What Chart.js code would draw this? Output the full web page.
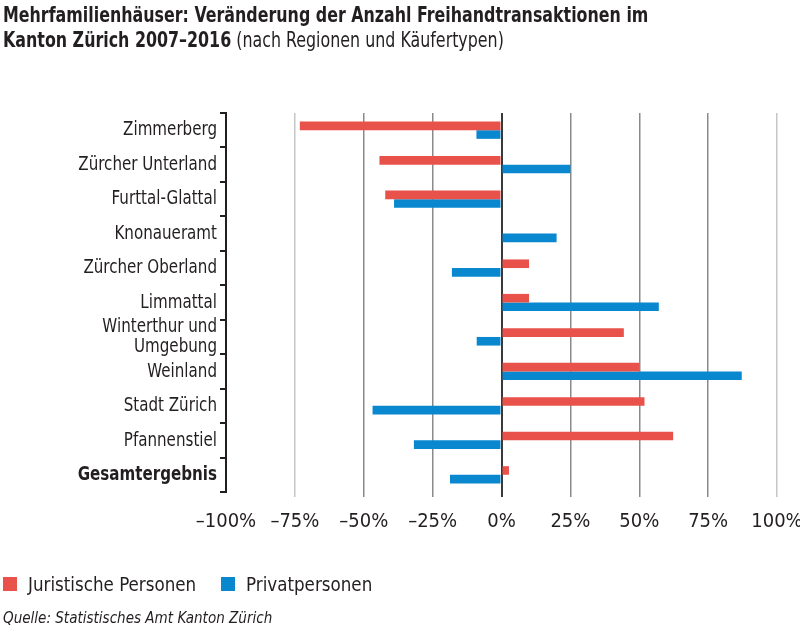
<!DOCTYPE html>
<html><head><meta charset="utf-8">
<script src="https://cdn.jsdelivr.net/npm/chart.js@4/dist/chart.umd.min.js"></script>
<style>
html,body{margin:0;padding:0;background:#fff;}
body{width:800px;height:632px;position:relative;overflow:hidden;font-family:'Liberation Sans Narrow','DejaVu Sans Condensed','Roboto',sans-serif;color:#231f20;}
#title{position:absolute;left:3px;top:3px;font-size:21px;line-height:25px;white-space:nowrap;transform:scaleX(0.84);transform-origin:0 0;}
#title b{font-weight:bold;}
#legend{position:absolute;left:3px;top:572px;font-size:20px;display:flex;white-space:nowrap;}
#legend .it{display:flex;align-items:center;margin-right:12px;}
#legend .sw{width:14px;height:14px;margin-right:11px;}
#legend .tx{display:inline-block;transform:scaleX(0.93);transform-origin:0 50%;}
#source{position:absolute;left:3px;top:608px;font-size:16px;font-style:italic;white-space:nowrap;transform:scaleX(0.94);transform-origin:0 0;}
#wrap{position:absolute;left:0;top:0;width:800px;height:632px;}
</style></head>
<body>
<div id="wrap"><canvas id="c" width="800" height="632"></canvas></div>
<div id="title"><b>Mehrfamilienhäuser: Veränderung der Anzahl Freihandtransaktionen im</b><br><b>Kanton Zürich 2007–2016</b> (nach Regionen und Käufertypen)</div>
<div id="legend"></div>
<div id="source">Quelle: Statistisches Amt Kanton Zürich</div>
<script>
const categories = ["Zimmerberg","Zürcher Unterland","Furttal-Glattal","Knonaueramt","Zürcher Oberland","Limmattal",["Winterthur und","Umgebung"],"Weinland","Stadt Zürich","Pfannenstiel","Gesamtergebnis"];
const juristische = [-73.2, -44.3, -42.2, 0, 10, 10, 44.4, 50, 51.9, 62.3, 2.7];
const privat = [-9.1, 25, -39, 20, -18, 57.1, -9, 87.2, -46.8, -31.8, -18.7];
const xTicks = [-100, -75, -50, -25, 0, 25, 50, 75, 100];
const seriesNames = ["Juristische Personen", "Privatpersonen"];
const colors = ["#e8524a", "#0a88cf"];

const FONT = "'Liberation Sans Narrow','DejaVu Sans Condensed','Roboto',sans-serif";
const TXT = "#231f20";

const leg = document.getElementById('legend');
seriesNames.forEach((n,i)=>{
  const d=document.createElement('div');d.className='it';
  d.innerHTML='<span class="sw" style="background:'+colors[i]+'"></span><span class="tx">'+n+'</span>';
  leg.appendChild(d);
});

const condenseY = {
  id: 'condenseY',
  beforeDraw(chart) {
    const y = chart.scales.y;
    if (!y || y._patched) return;
    const orig = y.drawLabels;
    y.drawLabels = function(area) {
      const ctx = this.ctx;
      const ax = this.right - 9;
      ctx.save();
      ctx.translate(ax, 0); ctx.scale(0.84, 1); ctx.translate(-ax, 0);
      orig.call(this, area);
      ctx.restore();
    };
    y._patched = true;
  }
};

new Chart(document.getElementById('c'), {
  type: 'bar',
  data: {
    labels: categories,
    datasets: [
      {label: seriesNames[0], data: juristische, backgroundColor: colors[0], categoryPercentage: 0.5, barPercentage: 1.0},
      {label: seriesNames[1], data: privat, backgroundColor: colors[1], categoryPercentage: 0.5, barPercentage: 1.0}
    ]
  },
  plugins: [condenseY],
  options: {
    indexAxis: 'y',
    responsive: false,
    animation: false,
    layout: {padding: {top: 113, left: 0, right: 23, bottom: 100}},
    plugins: {legend: {display: false}, tooltip: {enabled: false}},
    scales: {
      x: {
        min: -100, max: 100,
        afterBuildTicks: (s) => { s.ticks = xTicks.map(v => ({value: v})); },
        afterFit: (s) => { s.height = 40; s.paddingLeft = 0; s.paddingRight = 0; },
        border: {display: false},
        grid: {
          color: (c) => {
            const v = c.tick ? c.tick.value : null;
            if (v === 0) return '#3a3a3a';
            if (v === 100 || v === -75) return '#c6c6c6';
            if (v === -100) return 'rgba(0,0,0,0)';
            return '#8a8a8a';
          },
          lineWidth: (c) => (c.tick && c.tick.value === 0) ? 2 : 1.5,
          tickLength: 5,
          drawTicks: true
        },
        ticks: {
          padding: 13,
          color: TXT,
          font: {family: FONT, size: 20},
          maxRotation: 0,
          autoSkip: false,
          callback: (v) => (v < 0 ? '–' + Math.abs(v) : v) + '%'
        }
      },
      y: {
        afterFit: (s) => { s.width = 226; },
        border: {display: true, color: '#231f20', width: 2},
        grid: {drawOnChartArea: false, drawTicks: true, tickLength: 6, color: '#231f20', lineWidth: 2, offset: true},
        ticks: {
          padding: 3,
          color: TXT,
          autoSkip: false,
          font: (c) => ({family: FONT, size: 20, weight: (c.index === 10 ? 'bold' : 'normal'), lineHeight: 1.0})
        }
      }
    }
  }
});
</script>
</body></html>
